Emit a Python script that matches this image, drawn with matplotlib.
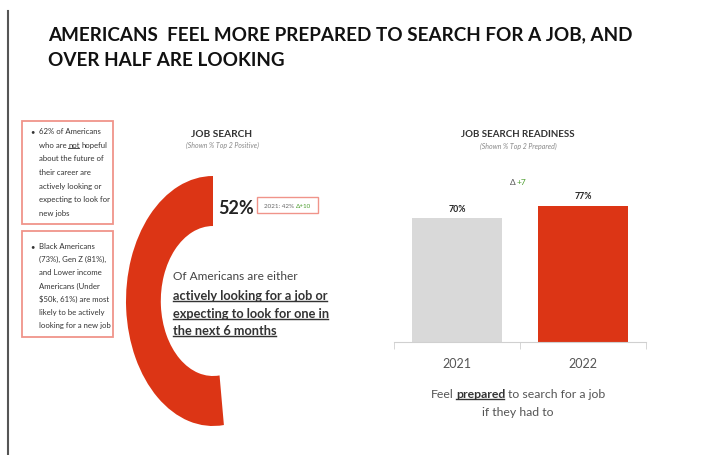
import matplotlib
matplotlib.use('Agg')
import matplotlib.pyplot as plt
from matplotlib import font_manager
from matplotlib.patches import Rectangle
from matplotlib.lines import Line2D

# ---- data ----
title_lines = ['AMERICANS  FEEL MORE PREPARED TO SEARCH FOR A JOB, AND',
               'OVER HALF ARE LOOKING']

job_search_pct = [52, 48]          # looking / not looking, 2022
job_search_prev = 42               # 2021
readiness_years = ['2021', '2022']
readiness_pct = [70, 77]

note_1 = ['62% of Americans', None, 'about the future of', 'their career are',
          'actively looking or', 'expecting to look for', 'new jobs']
note_2 = ['Black Americans', '(73%), Gen Z (81%),', 'and Lower income',
          'Americans (Under', '\\$50k, 61%) are most', 'likely to be actively',
          'looking for a new job']

RED = '#dc3515'
BAR_GRAY = '#d9d9d9'
BOX_EDGE = '#f0948a'
GREEN = '#4d9e2f'
INK = '#333333'

W, H = 704, 456
fig = plt.figure(figsize=(W / 100, H / 100), dpi=100)
fig.patch.set_facecolor('white')
R = fig.canvas.get_renderer()

installed = {f.name for f in font_manager.fontManager.ttflist}
FONT = 'Liberation Sans Narrow' if 'Liberation Sans Narrow' in installed else 'Lato'


def fx(x):
    return x / W


def fy(y):
    return 1 - y / H


def text_w(s, **kw):
    t = fig.text(0, 0, s, **kw)
    w = t.get_window_extent(renderer=R).width
    t.remove()
    return w


def runs(x, y, parts, size, ha='left', color=INK, weight='normal', style='normal'):
    """Write a line made of differently styled pieces, separated by spaces."""
    base = dict(fontsize=size, family=FONT)
    gap = 0.75 * (text_w('a a', **base) - text_w('aa', **base))
    placed = []
    for s, opts in parts:
        kw = dict(base, color=color, fontweight=weight, fontstyle=style)
        kw.update({k: v for k, v in opts.items() if k != 'underline'})
        t = fig.text(0, fy(y), s, va='baseline', **kw)
        placed.append((t, t.get_window_extent(renderer=R).width,
                       opts.get('underline', False), kw['color']))
    total = sum(p[1] for p in placed) + gap * (len(placed) - 1)
    cur = {'left': x, 'center': x - total / 2, 'right': x - total}[ha]
    for t, w, ul, c in placed:
        t.set_x(fx(cur))
        if ul:
            fig.add_artist(Line2D([fx(cur), fx(cur + w - 1)], [fy(y + size * 0.25)] * 2,
                                  color=c, lw=size / 9))
        cur += w + gap


# ---- header ----
fig.add_artist(Line2D([fx(8)] * 2, [fy(12), fy(456)], color='#555555', lw=1.5))
for i, line in enumerate(title_lines):
    fig.text(fx(48), fy(40 + 26 * i), line, fontsize=13.6, fontweight='bold',
             family=FONT, color='#111111', va='baseline')

# ---- side notes ----
for top, bottom, lines, y0, step in [(122, 225, note_1, 134, 13.7),
                                     (232, 338, note_2, 249, 13.2)]:
    fig.add_artist(Rectangle((fx(22), fy(bottom)), fx(113) - fx(22), fy(top) - fy(bottom),
                             fill=False, ec=BOX_EDGE, lw=1.3))
    fig.text(fx(30), fy(y0), '•', fontsize=5.6, family=FONT, color=INK, va='baseline')
    for i, line in enumerate(lines):
        y = y0 + step * i
        if line is None:
            runs(39, y, [('who are', {}), ('not', {'underline': True}), ('hopeful', {})],
                 5.6, color=INK)
        else:
            fig.text(fx(39), fy(y), line, fontsize=5.6, family=FONT, color=INK, va='baseline')

# ---- job search donut ----
ax_d = fig.add_axes([fx(126), fy(427), 174 / W, 250 / H])
ax_d.pie(job_search_pct, colors=[RED, 'none'], startangle=90, counterclock=True,
         wedgeprops=dict(width=0.4, linewidth=0))
ax_d.set_aspect('auto')
ax_d.set_xlim(-1, 1)
ax_d.set_ylim(-1, 1)
ax_d.axis('off')

fig.text(fx(222), fy(137), 'JOB SEARCH', fontsize=7.3, fontweight='bold', family=FONT,
         color=INK, ha='center', va='baseline')
fig.text(fx(222), fy(148), '(Shown % Top 2 Positive)', fontsize=5, fontstyle='italic',
         family=FONT, color='#888888', ha='center', va='baseline')
fig.text(fx(218), fy(214), f'{job_search_pct[0]}%', fontsize=13, fontweight='bold',
         family=FONT, color='#222222', va='baseline')
fig.add_artist(Rectangle((fx(257), fy(214)), fx(318) - fx(257), fy(198) - fy(214),
                         fill=False, ec=BOX_EDGE, lw=1))
runs(287.5, 208.5, [(f'2021: {job_search_prev}%', {}),
                    (f'Δ+{job_search_pct[0] - job_search_prev}', {'color': GREEN})],
     4.5, ha='center', color='#666666')

fig.text(fx(173), fy(280), 'Of Americans are either', fontsize=8.6, family=FONT,
         color='#444444', va='baseline')
for i, line in enumerate(['actively looking for a job or',
                          'expecting to look for one in',
                          'the next 6 months']):
    runs(173, 300 + 17.5 * i, [(line, {'underline': True})], 9.2,
         color='#333333', weight='bold')

# ---- job search readiness bars ----
ax_b = fig.add_axes([fx(394), fy(343), 252 / W, 177 / H])
x = list(range(len(readiness_years)))
ax_b.bar(x, readiness_pct, width=0.71, color=[BAR_GRAY, RED])
for xi, v in zip(x, readiness_pct):
    ax_b.annotate(f'{v}%', (xi, v), xytext=(0, 4), textcoords='offset points',
                  ha='center', va='bottom', fontsize=6.3, fontweight='bold',
                  family=FONT, color='#222222')
ax_b.set_xlim(-0.5, 1.5)
ax_b.set_ylim(0, 100)
for side in ['top', 'right', 'left']:
    ax_b.spines[side].set_visible(False)
ax_b.spines['bottom'].set_color('#d0d0d0')
ax_b.set_yticks([])
ax_b.set_xticks(x, readiness_years)
ax_b.set_xticks([-0.5, 0.5, 1.5], minor=True)
ax_b.tick_params(axis='x', which='major', length=0, pad=11, labelsize=9,
                 labelcolor='#555555')
ax_b.tick_params(axis='x', which='minor', length=5, color='#d0d0d0')
for lab in ax_b.get_xticklabels():
    lab.set_family(FONT)
ax_b.patch.set_visible(False)

fig.text(fx(518), fy(137), 'JOB SEARCH READINESS', fontsize=7, fontweight='bold',
         family=FONT, color=INK, ha='center', va='baseline')
fig.text(fx(518), fy(149), '(Shown % Top 2 Prepared)', fontsize=5, fontstyle='italic',
         family=FONT, color='#888888', ha='center', va='baseline')
runs(518, 185, [('Δ', {}), (f'+{readiness_pct[1] - readiness_pct[0]}', {'color': GREEN})],
     6, ha='center', color='#555555')

runs(518, 398, [('Feel', {}),
                ('prepared', {'fontweight': 'bold', 'underline': True, 'color': '#333333'}),
                ('to search for a job', {})], 8.8, ha='center', color='#555555')
runs(518, 416, [('if they had to', {})], 8.8, ha='center', color='#555555')

fig.savefig('out.png', dpi=100)
